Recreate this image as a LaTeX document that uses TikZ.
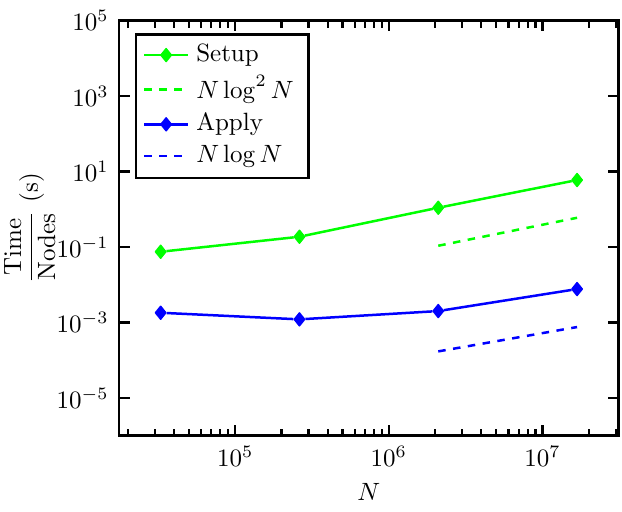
\documentclass[tikz,border=0pt]{standalone}
\usepackage{amsmath}
\usepackage{tikz}
\usetikzlibrary{shapes.geometric}
\definecolor{setupcolor}{rgb}{0, 1, 0}
\definecolor{applycolor}{rgb}{0, 0, 1}
\tikzstyle{axisline} = [line width=1.1pt, black]
\tikzstyle{majortick} = [line width=0.9pt]
\tikzstyle{minortick} = [line width=0.9pt]
\tikzstyle{ticklabel} = [inner sep=4pt]
\tikzstyle{dataline} = [line width=1pt]
\tikzstyle{fitline} = [line width=1pt, dashed]
\tikzstyle{datamark} = [
    diamond,
    inner sep=0pt,
    minimum width=4.4pt,
    minimum height=5.4pt,
    line width=0.6pt,
    line join=round
    ]
\tikzstyle{legendbox} = [
    draw=black,
    line width=0.9pt,
    rectangle,
    inner sep=0pt,
    minimum width=68.9pt,
    minimum height=57.4pt
    ]
\tikzstyle{legendtext} = [anchor=west, inner sep=3pt]

\begin{document}
\begin{tikzpicture}[x=61.48pt, y=15.09pt]
\useasboundingbox (3.4703,-7.999) rectangle (7.5171,5.549);
\coordinate (ll) at (4.2445,-6);
\coordinate (ur) at (7.4956,5);
\draw[axisline] (ll) rectangle (ur);

% ticks on the N axis
\foreach \e in {5,6,7}{
    \draw[majortick] (\e,-6) -- ++(0,4.25pt);
    \draw[majortick] (\e,5) -- ++(0,-4.25pt);
    \node[ticklabel, anchor=north] (xt\e) at (\e,-6) {$10^{\e}$};
}
\foreach \e in {4,5,6}
    \foreach \m in {2,...,9}{
        \draw[minortick] ({\e+log10(\m)},-6) -- ++(0,2.83pt);
        \draw[minortick] ({\e+log10(\m)},5) -- ++(0,-2.83pt);
    }
\foreach \m in {2,3}{
    \draw[minortick] ({7+log10(\m)},-6) -- ++(0,2.83pt);
    \draw[minortick] ({7+log10(\m)},5) -- ++(0,-2.83pt);
}

% ticks on the time axis
\foreach \e [count=\i] in {-5,-3,...,5}{
    \draw[majortick] (4.2445,\e) -- ++(4.25pt,0);
    \draw[majortick] (7.4956,\e) -- ++(-4.25pt,0);
    \node[ticklabel, anchor=east] (yt\i) at (4.2445,\e) {$10^{\e}$};
}

\node[anchor=base] (xlabel) at (5.870,-7.707) {$N$};
\node[rotate=90, anchor=base] (ylabel) at (3.7175,-0.5)
    {$\dfrac{\mathrm{Time}}{\mathrm{Nodes}}$ (s)};

% setup
\node[datamark, fill=setupcolor, draw=setupcolor] (s1) at (4.5154,-1.124) {};
\node[datamark, fill=setupcolor, draw=setupcolor] (s2) at (5.4185,-0.726) {};
\node[datamark, fill=setupcolor, draw=setupcolor] (s3) at (6.3216,0.043) {};
\node[datamark, fill=setupcolor, draw=setupcolor] (s4) at (7.2247,0.777) {};
\draw[dataline, setupcolor] (s1) -- (s2) -- (s3) -- (s4);
\coordinate (sfa) at (6.3216,-0.965);
\coordinate (sfb) at (7.2247,-0.223);
\draw[fitline, setupcolor] (sfa) -- (sfb);

% apply
\node[datamark, fill=applycolor, draw=applycolor] (a1) at (4.5154,-2.741) {};
\node[datamark, fill=applycolor, draw=applycolor] (a2) at (5.4185,-2.916) {};
\node[datamark, fill=applycolor, draw=applycolor] (a3) at (6.3216,-2.696) {};
\node[datamark, fill=applycolor, draw=applycolor] (a4) at (7.2247,-2.113) {};
\draw[dataline, applycolor] (a1) -- (a2) -- (a3) -- (a4);
\coordinate (afa) at (6.3216,-3.765);
\coordinate (afb) at (7.2247,-3.120);
\draw[fitline, applycolor] (afa) -- (afb);

% legend
\node[legendbox, anchor=north west] (legend) at (4.3486,4.666) {};
\begin{scope}[shift={(legend.north west)}]
    \coordinate (k1a) at (3.6pt,-8.7pt);
    \coordinate (k1b) at (21.3pt,-8.7pt);
    \coordinate (k2a) at (3.6pt,-22.4pt);
    \coordinate (k2b) at (21.3pt,-22.4pt);
    \coordinate (k3a) at (3.6pt,-36.4pt);
    \coordinate (k3b) at (21.3pt,-36.4pt);
    \coordinate (k4a) at (3.6pt,-49.1pt);
    \coordinate (k4b) at (21.3pt,-49.1pt);
    \draw[dataline, setupcolor] (k1a) -- (k1b);
    \node[datamark, fill=setupcolor, draw=setupcolor] (k1m) at (12.45pt,-8.7pt) {};
    \draw[fitline, setupcolor] (k2a) -- (k2b);
    \draw[dataline, applycolor] (k3a) -- (k3b);
    \node[datamark, fill=applycolor, draw=applycolor] (k3m) at (12.45pt,-36.4pt) {};
    \draw[fitline, applycolor] (k4a) -- (k4b);
    \node[legendtext] (k1t) at (k1b) {Setup};
    \node[legendtext] (k2t) at (k2b) {$N\log^2 N$};
    \node[legendtext] (k3t) at (k3b) {Apply};
    \node[legendtext] (k4t) at (k4b) {$N\log N$};
\end{scope}
\end{tikzpicture}
\end{document}
